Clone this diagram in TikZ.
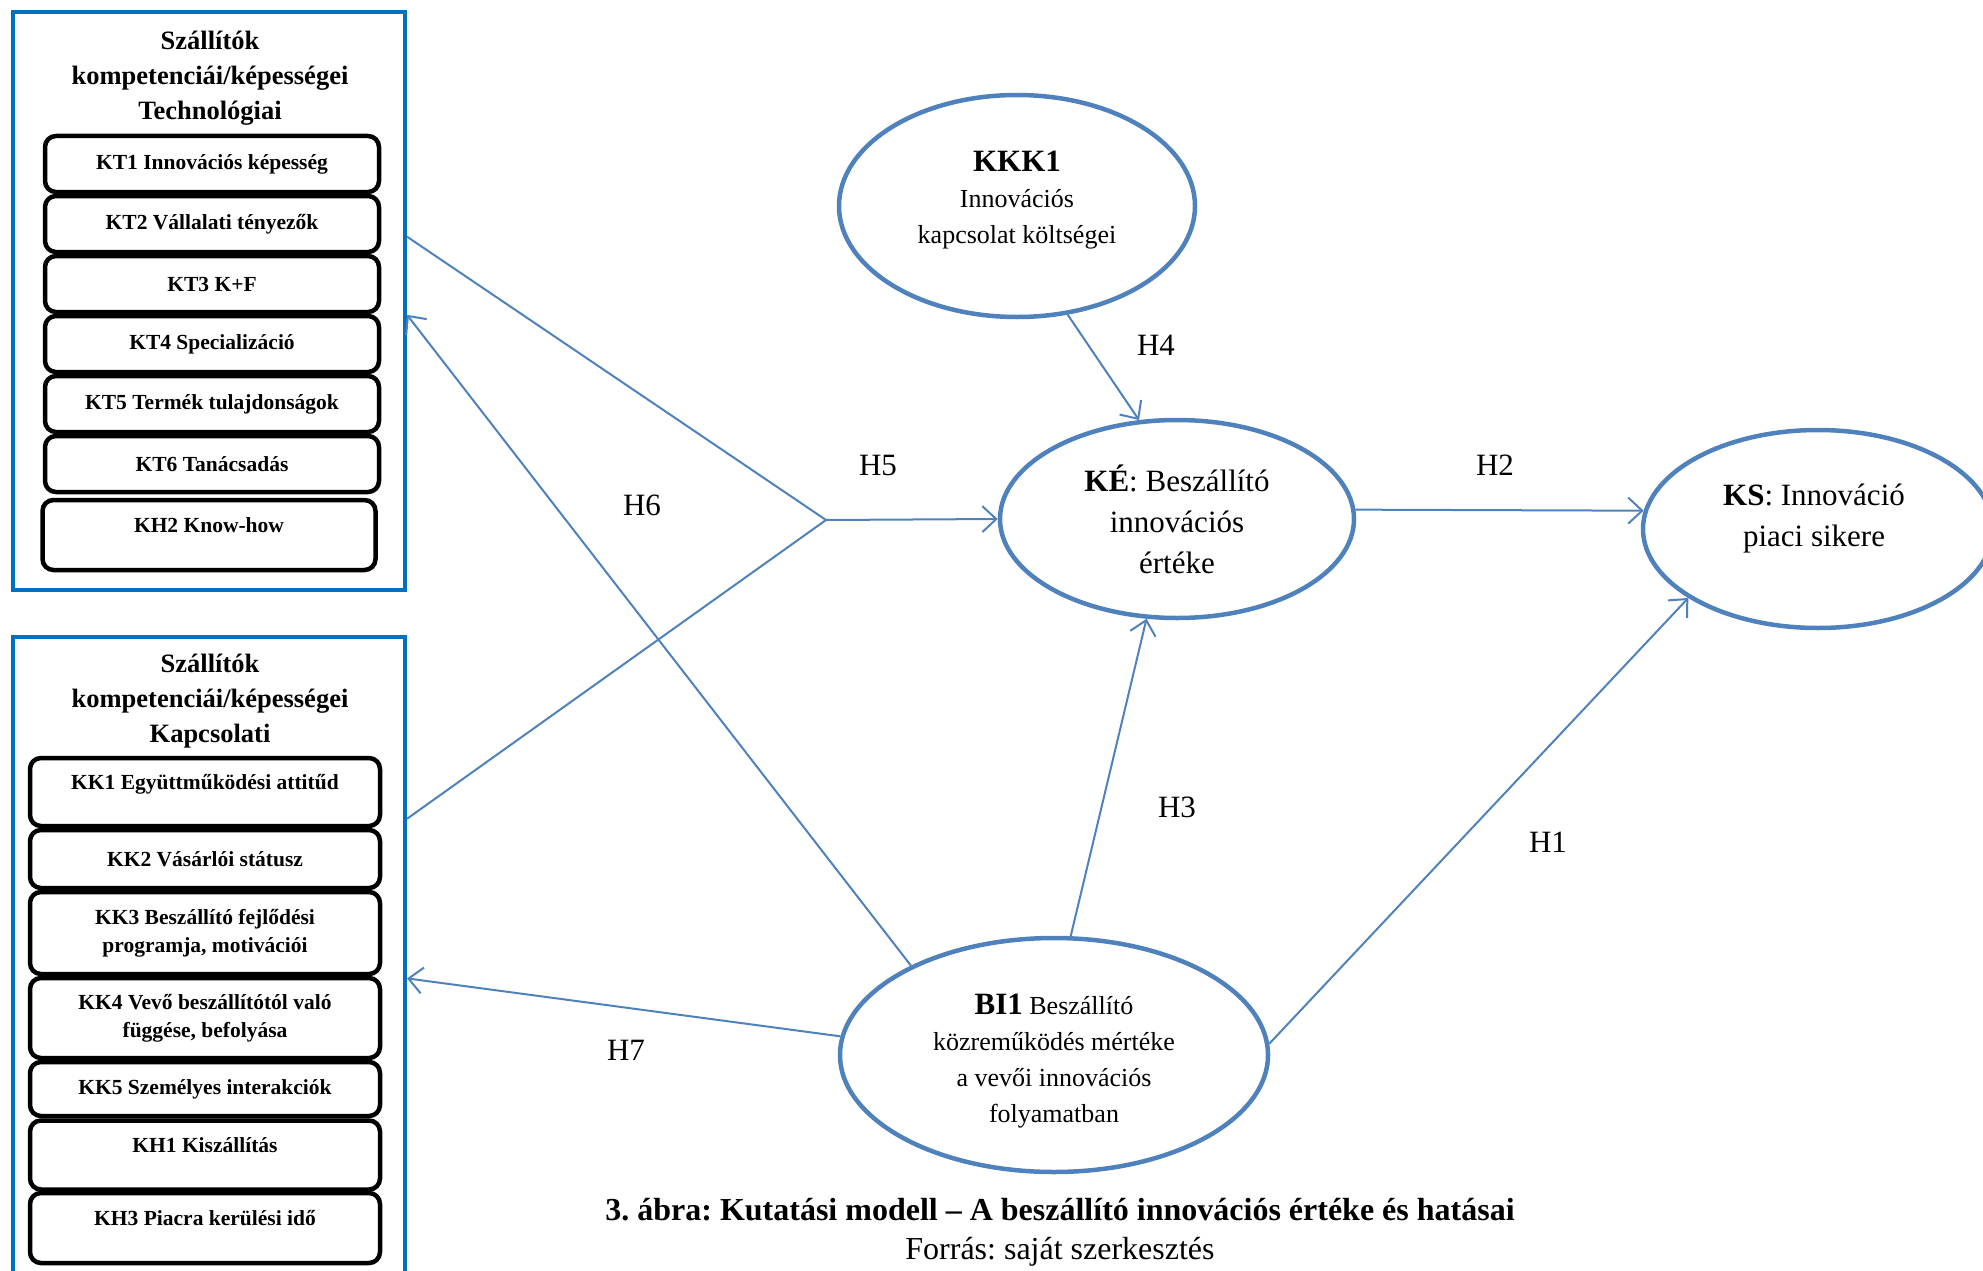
\documentclass[tikz,border=0pt]{standalone}
\usepackage{fontspec}
\setmainfont{Liberation Serif}
\usetikzlibrary{shapes.geometric,arrows.meta}

\definecolor{boxblue}{RGB}{0,112,192}
\definecolor{ovalblue}{RGB}{79,129,189}

\newcommand{\grouptitlefont}{\fontsize{26.5}{35}\selectfont\bfseries}
\newcommand{\boxitemfont}{\fontsize{21.5}{28}\selectfont\bfseries}
\newcommand{\ovalfont}{\fontsize{26}{36}\selectfont}
\newcommand{\ovalbigfont}{\fontsize{31}{41}\selectfont}
\newcommand{\hypfont}{\fontsize{31}{39}\selectfont}
\newcommand{\captionfont}{\fontsize{32}{39}\selectfont}

\tikzset{
  groupbox/.style={draw=boxblue,line width=4pt,minimum width=392pt},
  itembox/.style={draw,line width=4.5pt,rounded corners=11pt,align=center,
    font=\boxitemfont,inner sep=0pt},
  uptext/.style={text depth=20pt},
  construct/.style={ellipse,draw=ovalblue,line width=4.5pt,inner sep=0pt},
  hyplink/.style={draw=ovalblue,line width=2pt},
  hyparrow/.style={hyplink,-{Straight Barb[length=14pt,width=26pt]}},
  hyplabel/.style={font=\hypfont}
}

\begin{document}
\frenchspacing
\begin{tikzpicture}[x=1pt,y=-1pt]
  \useasboundingbox (0,0) rectangle (1983,1271);
  \clip (0,0) rectangle (1983,1271);

  % technological competences
  \node[groupbox,minimum height=578pt] (techbox) at (209,301) {};
  \node[align=center,font=\grouptitlefont] (techtitle) at (210,78)
    {Szállítók\\kompetenciái/képességei\\Technológiai};
  \node[itembox,minimum width=334pt,minimum height=56pt] (kt1) at (212,164) {KT1 Innovációs képesség};
  \node[itembox,minimum width=334pt,minimum height=56pt] (kt2) at (212,224) {KT2 Vállalati tényezők};
  \node[itembox,minimum width=334pt,minimum height=56pt] (kt3) at (212,284) {KT3 K+F};
  \node[itembox,minimum width=334pt,minimum height=56pt] (kt4) at (212,344) {KT4 Specializáció};
  \node[itembox,minimum width=334pt,minimum height=56pt] (kt5) at (212,404) {KT5 Termék tulajdonságok};
  \node[itembox,minimum width=334pt,minimum height=56pt] (kt6) at (212,464) {KT6 Tanácsadás};
  \node[itembox,uptext,minimum width=333pt,minimum height=70pt] (kh2) at (209,535) {KH2 Know-how};

  % relational competences
  \node[groupbox,minimum height=662pt] (relbox) at (209,968) {};
  \node[align=center,font=\grouptitlefont] (reltitle) at (210,701)
    {Szállítók\\kompetenciái/képességei\\Kapcsolati};
  \node[itembox,uptext,minimum width=350pt,minimum height=68pt] (kk1) at (205,792) {KK1 Együttműködési attitűd};
  \node[itembox,minimum width=350pt,minimum height=58pt] (kk2) at (205,859) {KK2 Vásárlói státusz};
  \node[itembox,minimum width=350pt,minimum height=82pt] (kk3) at (205,933)
    {KK3 Beszállító fejlődési\\programja, motivációi};
  \node[itembox,minimum width=350pt,minimum height=80pt] (kk4) at (205,1018)
    {KK4 Vevő beszállítótól való\\függése, befolyása};
  \node[itembox,minimum width=350pt,minimum height=54pt] (kk5) at (205,1089) {KK5 Személyes interakciók};
  \node[itembox,uptext,minimum width=350pt,minimum height=69pt] (kh1) at (205,1155) {KH1 Kiszállítás};
  \node[itembox,uptext,minimum width=350pt,minimum height=70pt] (kh3) at (205,1228) {KH3 Piacra kerülési idő};

  % constructs
  \node[construct,minimum width=356pt,minimum height=222pt] (kkk) at (1017,206) {};
  \node[construct,minimum width=354pt,minimum height=198pt] (ke) at (1177,519) {};
  \node[construct,minimum width=350pt,minimum height=198pt] (ks) at (1818,529) {};
  \node[construct,minimum width=428pt,minimum height=234pt] (bi) at (1054,1055) {};

  \node[align=center,font=\ovalfont] (kkktext) at ([yshift=6pt]kkk.center)
    {{\ovalbigfont\bfseries KKK1}\\Innovációs\\kapcsolat költségei};
  \node[align=center,font=\ovalbigfont] (ketext) at (ke.center)
    {{\bfseries KÉ}: Beszállító\\innovációs\\értéke};
  \node[align=center,font=\ovalbigfont] (kstext) at ([xshift=-4pt,yshift=10pt]ks.center)
    {{\bfseries KS}: Innováció\\piaci sikere};
  \node[align=center,font=\ovalfont] (bitext) at ([yshift=-6pt]bi.center)
    {{\ovalbigfont\bfseries BI1} Beszállító\\közreműködés mértéke\\a vevői innovációs\\folyamatban};

  % hypotheses
  \coordinate (h5join) at (826,520);
  \draw[hyplink] (techbox.18) -- (h5join);
  \draw[hyplink] (relbox.37) -- (h5join);
  \draw[hyparrow] (h5join) -- (ke.west);
  \draw[hyparrow] (kkk.-65) -- (ke.111);
  \draw[hyparrow] (ke.3) -- (ks.174);
  \draw[hyparrow] (bi.82) -- (ke.-107);
  \draw[hyparrow] (bi.3) -- (ks.-152);
  \draw[hyparrow] (bi.148) -- (techbox.-4);
  \draw[hyparrow] (bi.175) -- (relbox.-3);

  \node[hyplabel] (h4) at (1156,345) {H4};
  \node[hyplabel] (h5) at (878,465) {H5};
  \node[hyplabel] (h2) at (1495,465) {H2};
  \node[hyplabel] (h6) at (642,505) {H6};
  \node[hyplabel] (h3) at (1177,807) {H3};
  \node[hyplabel] (h1) at (1548,842) {H1};
  \node[hyplabel] (h7) at (626,1050) {H7};

  \node[align=center,font=\captionfont] (caption) at (1060,1232)
    {{\bfseries 3. ábra: Kutatási modell -- A beszállító innovációs értéke és hatásai}\\Forrás: saját szerkesztés};
\end{tikzpicture}
\end{document}
